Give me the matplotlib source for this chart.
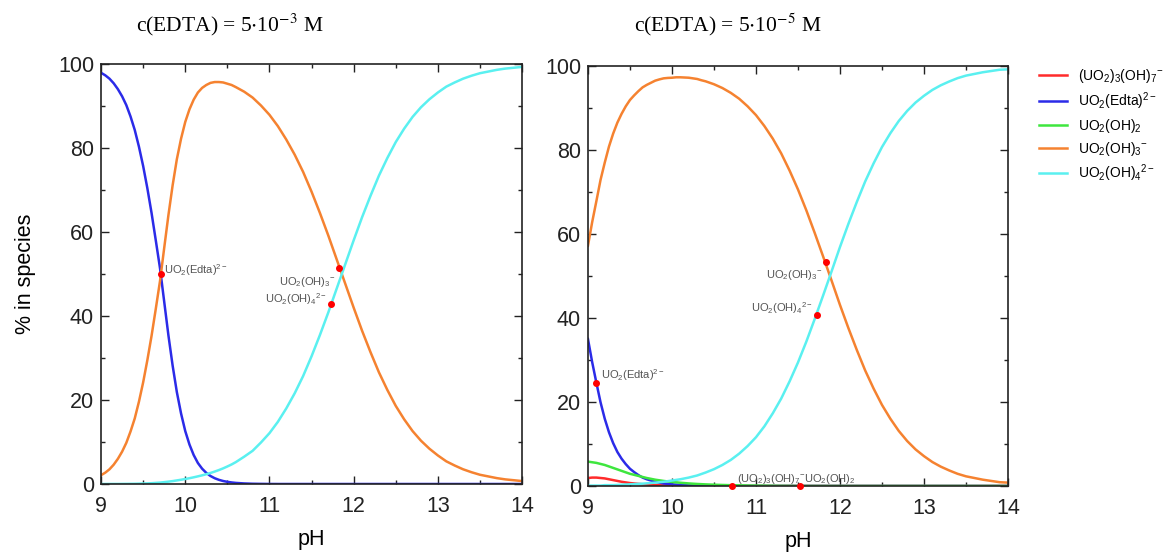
import matplotlib
matplotlib.use("Agg")
import matplotlib.pyplot as plt
import numpy as np
from matplotlib.ticker import MultipleLocator

plt.rcParams["font.family"] = ["Liberation Sans", "DejaVu Sans"]
plt.rcParams["mathtext.fontset"] = "custom"
plt.rcParams["mathtext.rm"] = "Liberation Sans"
plt.rcParams["mathtext.it"] = "Liberation Sans:italic"
plt.rcParams["mathtext.bf"] = "Liberation Sans:bold"

# pH grid: 0.05 step up to 10.6 (steep part), 0.1 step after
ph = np.concatenate([np.linspace(9, 10.6, 33), np.linspace(10.7, 14, 34)])

# left panel: c(EDTA) = 5e-3 M
left_edta = [97.9, 97.3, 96.5, 95.4, 94.0, 92.3, 90.2, 87.5, 84.3, 80.3,
             75.7, 70.4, 64.5, 58.0, 51.4, 43.4, 35.4, 28.2, 21.9, 16.8,
             12.6, 9.4, 6.9, 5.0, 3.65, 2.65, 1.9, 1.37, 0.99, 0.71,
             0.51, 0.37, 0.26,
             0.13, 0.06, 0.03, 0.01, 0.0, 0.0, 0.0, 0.0, 0.0, 0.0,
             0.0, 0.0, 0.0, 0.0, 0.0, 0.0, 0.0, 0.0, 0.0, 0.0,
             0.0, 0.0, 0.0, 0.0, 0.0, 0.0, 0.0, 0.0, 0.0, 0.0,
             0.0, 0.0, 0.0, 0.0]
left_oh3 = [2.1, 2.7, 3.5, 4.6, 6.0, 7.7, 9.8, 12.5, 15.6, 19.6,
            24.2, 29.5, 35.3, 41.7, 48.3, 56.2, 64.0, 71.1, 77.3, 82.2,
            86.2, 89.2, 91.5, 93.2, 94.3, 95.0, 95.5, 95.7, 95.7, 95.6,
            95.3, 95.0, 94.5,
            93.4, 92.0, 90.1, 87.9, 85.2, 82.0, 78.4, 74.3, 69.6, 64.5,
            59.1, 53.4, 47.7, 42.0, 36.5, 31.4, 26.6, 22.4, 18.6, 15.4,
            12.6, 10.3, 8.4, 6.8, 5.4, 4.4, 3.5, 2.8, 2.2, 1.8,
            1.4, 1.1, 0.9, 0.7]
left_oh4 = [0.0, 0.0, 0.01, 0.01, 0.01, 0.02, 0.03, 0.04, 0.05, 0.08,
            0.11, 0.14, 0.19, 0.26, 0.33, 0.44, 0.56, 0.69, 0.85, 1.01,
            1.19, 1.38, 1.59, 1.82, 2.06, 2.33, 2.63, 2.96, 3.32, 3.72,
            4.17, 4.65, 5.2,
            6.5, 7.9, 9.9, 12.1, 14.8, 18.0, 21.6, 25.7, 30.4, 35.5,
            40.9, 46.6, 52.3, 58.0, 63.5, 68.6, 73.4, 77.6, 81.4, 84.6,
            87.4, 89.7, 91.6, 93.2, 94.6, 95.6, 96.5, 97.2, 97.8, 98.2,
            98.6, 98.9, 99.1, 99.3]

# right panel: c(EDTA) = 5e-5 M
right_trimer = [1.9, 2.0, 2.0, 1.9, 1.8, 1.6, 1.4, 1.2, 1.0, 0.85,
                0.7, 0.6, 0.5, 0.42, 0.35, 0.28, 0.22, 0.18, 0.15, 0.12,
                0.1, 0.08, 0.06, 0.05, 0.04, 0.03, 0.02, 0.01, 0.0, 0.0,
                0.0, 0.0, 0.0,
                0.0, 0.0, 0.0, 0.0, 0.0, 0.0, 0.0, 0.0, 0.0, 0.0,
                0.0, 0.0, 0.0, 0.0, 0.0, 0.0, 0.0, 0.0, 0.0, 0.0,
                0.0, 0.0, 0.0, 0.0, 0.0, 0.0, 0.0, 0.0, 0.0, 0.0,
                0.0, 0.0, 0.0, 0.0]
right_edta = [35.0, 29.5, 24.6, 19.9, 16.0, 12.8, 10.2, 8.1, 6.5, 5.2,
              4.1, 3.3, 2.6, 2.0, 1.6, 1.3, 1.0, 0.8, 0.6, 0.5,
              0.4, 0.32, 0.25, 0.2, 0.15, 0.12, 0.1, 0.08, 0.06, 0.05,
              0.04, 0.03, 0.02,
              0.01, 0.0, 0.0, 0.0, 0.0, 0.0, 0.0, 0.0, 0.0, 0.0,
              0.0, 0.0, 0.0, 0.0, 0.0, 0.0, 0.0, 0.0, 0.0, 0.0,
              0.0, 0.0, 0.0, 0.0, 0.0, 0.0, 0.0, 0.0, 0.0, 0.0,
              0.0, 0.0, 0.0, 0.0]
right_oh2 = [5.8, 5.65, 5.5, 5.25, 5.0, 4.65, 4.3, 3.95, 3.6, 3.25,
             2.9, 2.65, 2.4, 2.15, 1.9, 1.7, 1.5, 1.35, 1.2, 1.08,
             0.97, 0.87, 0.77, 0.69, 0.61, 0.54, 0.48, 0.43, 0.38, 0.34,
             0.3, 0.27, 0.24,
             0.19, 0.15, 0.11, 0.09, 0.07, 0.05, 0.03, 0.02, 0.0, 0.0,
             0.0, 0.0, 0.0, 0.0, 0.0, 0.0, 0.0, 0.0, 0.0, 0.0,
             0.0, 0.0, 0.0, 0.0, 0.0, 0.0, 0.0, 0.0, 0.0, 0.0,
             0.0, 0.0, 0.0, 0.0]
right_oh3 = [57.2, 62.8, 67.8, 72.9, 77.0, 80.8, 83.9, 86.5, 88.6, 90.4,
             91.9, 93.0, 94.0, 94.9, 95.5, 96.0, 96.5, 96.8, 97.05, 97.15,
             97.2, 97.3, 97.3, 97.25, 97.2, 97.05, 96.9, 96.6, 96.35, 96.0,
             95.65, 95.2, 94.75,
             93.6, 92.2, 90.4, 88.3, 85.7, 82.7, 79.2, 75.1, 70.6, 65.6,
             60.2, 54.6, 48.9, 43.1, 37.6, 32.4, 27.5, 23.2, 19.3, 16.0,
             13.1, 10.7, 8.7, 7.1, 5.7, 4.6, 3.7, 2.9, 2.3, 1.9,
             1.5, 1.2, 0.9, 0.8]
right_oh4 = [0.1, 0.1, 0.1, 0.1, 0.2, 0.2, 0.2, 0.25, 0.3, 0.35,
             0.4, 0.45, 0.5, 0.55, 0.63, 0.72, 0.8, 0.9, 1.0, 1.15,
             1.3, 1.45, 1.6, 1.8, 2.0, 2.25, 2.5, 2.85, 3.2, 3.6,
             4.0, 4.5, 5.0,
             6.2, 7.7, 9.5, 11.6, 14.2, 17.3, 20.8, 24.9, 29.4, 34.4,
             39.8, 45.4, 51.1, 56.9, 62.4, 67.6, 72.5, 76.8, 80.7, 84.0,
             86.9, 89.3, 91.3, 92.9, 94.3, 95.4, 96.3, 97.1, 97.7, 98.1,
             98.5, 98.8, 99.1, 99.2]

species = [r"(UO$_2$)$_3$(OH)$_7$$^{-}$", r"UO$_2$(Edta)$^{2-}$", r"UO$_2$(OH)$_2$",
           r"UO$_2$(OH)$_3$$^{-}$", r"UO$_2$(OH)$_4$$^{2-}$"]
colors = ["#ff2b2b", "#2b2be8", "#3ee63e", "#f58230", "#5af0f0"]

# point labels: (x, y of dot), (x, y of text), text, alignment
left_marks = [
    ((9.71, 50.0), (9.75, 51.0), species[1], "left"),
    ((11.83, 51.5), (11.79, 48.2), species[3], "right"),
    ((11.73, 42.8), (11.68, 44.0), species[4], "right"),
]
right_marks = [
    ((9.10, 24.6), (9.15, 26.3), species[1], "left"),
    ((11.83, 53.3), (11.79, 50.2), species[3], "right"),
    ((11.73, 40.7), (11.68, 42.4), species[4], "right"),
    ((10.72, 0.0), (10.77, 1.6), species[0], "left"),
    ((11.53, 0.0), (11.57, 1.6), species[2], "left"),
]


def style_axis(axis):
    axis.set_xlim(9, 14)
    axis.set_ylim(0, 100)
    axis.xaxis.set_major_locator(MultipleLocator(1))
    axis.xaxis.set_minor_locator(MultipleLocator(0.5))
    axis.yaxis.set_major_locator(MultipleLocator(20))
    axis.yaxis.set_minor_locator(MultipleLocator(10))
    axis.tick_params(which="both", direction="in", top=True, right=True,
                     width=1.0, colors="#222222", labelsize=15.5)
    axis.tick_params(which="major", length=6)
    axis.tick_params(which="minor", length=3)
    axis.tick_params(axis="x", pad=9)
    axis.tick_params(axis="y", pad=5)
    for spine in axis.spines.values():
        spine.set_linewidth(1.2)
        spine.set_color("#222222")
    axis.set_xlabel("pH", fontsize=15.5, labelpad=8)


def add_marks(axis, marks):
    for (px, py), (tx, ty), text, ha in marks:
        axis.plot(px, py, "o", color="red", markersize=4, zorder=5, clip_on=False)
        axis.text(tx, ty, text, ha=ha, va="center", fontsize=8, color="#555555", zorder=6)


fig = plt.figure(figsize=(11.71, 5.52), dpi=100)
ax_left = fig.add_axes([0.0863, 0.1232, 0.3595, 0.7609])
ax_right = fig.add_axes([0.5021, 0.1196, 0.3587, 0.7609])

lw = 1.8
ax_left.plot(ph, left_edta, color=colors[1], lw=lw)
ax_left.plot(ph, left_oh3, color=colors[3], lw=lw)
ax_left.plot(ph, left_oh4, color=colors[4], lw=lw)
add_marks(ax_left, left_marks)
style_axis(ax_left)
ax_left.set_ylabel("% in species", fontsize=15.5, labelpad=16)

right_series = [right_trimer, right_edta, right_oh2, right_oh3, right_oh4]
for values, color, label in zip(right_series, colors, species):
    ax_right.plot(ph, values, color=color, lw=lw, label=label)
add_marks(ax_right, right_marks)
style_axis(ax_right)

ax_right.legend(loc="upper left", bbox_to_anchor=(1.06, 1.01), frameon=False,
                fontsize=10, handlelength=2.0, handletextpad=0.8,
                labelspacing=0.35, borderaxespad=0.0)

fig.text(230 / 1171, 1 - 25 / 552, r"c(EDTA) = 5$\cdot$10$^{-3}$ M", ha="center", va="center",
         fontsize=15.5, family="Liberation Serif", math_fontfamily="stix")
fig.text(728 / 1171, 1 - 25 / 552, r"c(EDTA) = 5$\cdot$10$^{-5}$ M", ha="center", va="center",
         fontsize=15.5, family="Liberation Serif", math_fontfamily="stix")

fig.savefig("out.png", dpi=100)
